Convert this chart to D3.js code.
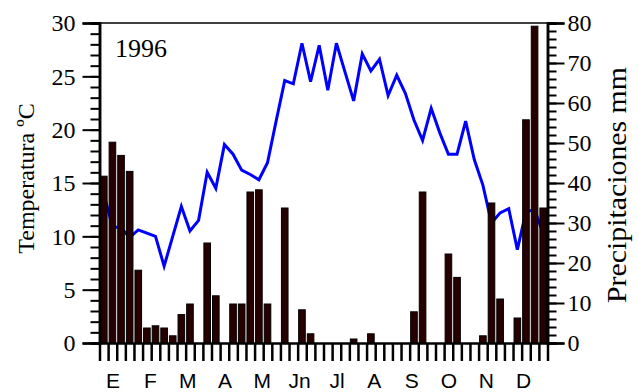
<!DOCTYPE html>
<html>
<head>
<meta charset="utf-8">
<script src="https://cdn.jsdelivr.net/npm/d3@7"></script>
<style>
  html, body { margin: 0; padding: 0; background: #fff; }
  svg { display: block; }
</style>
</head>
<body>
<svg id="chart" width="639" height="392"></svg>
<script>
// Weekly climate record for 1996: mean temperature (ºC) and precipitation (mm)
const year = "1996";
const months = ["E", "F", "M", "A", "M", "Jn", "Jl", "A", "S", "O", "N", "D"];
const temperature = [
  14.0, 10.9, 10.8, 9.9, 10.6, 10.3, 10.0, 7.2, 10.0, 12.8,
  10.5, 11.5, 16.0, 14.5, 18.6, 17.7, 16.2, 15.8, 15.3, 16.9,
  20.8, 24.6, 24.3, 28.1, 24.5, 27.9, 23.7, 28.1, 25.4, 22.7,
  27.1, 25.5, 26.6, 23.2, 25.1, 23.4, 20.9, 19.0, 22.0, 19.7,
  17.7, 17.7, 20.8, 17.2, 14.8, 11.25, 12.2, 12.6, 8.75, 12.3,
  12.5, 10.3
];
const precipitation = [
  41.7, 50.2, 46.9, 42.9, 18.2, 3.75, 4.3, 3.75, 1.8, 7.1,
  9.75, 0, 25.0, 11.8, 0, 9.75, 9.75, 37.75, 38.3, 9.75,
  0, 33.75, 0, 8.3, 2.3, 0, 0, 0, 0, 1.0,
  0, 2.3, 0, 0, 0, 0, 7.8, 37.75, 0, 0,
  22.25, 16.4, 0, 0, 1.8, 35.0, 11.0, 0, 6.25, 55.8,
  79.2, 33.75
];
const tempTicks = d3.range(0, 31, 5);
const precipTicks = d3.range(0, 81, 10);

const svg = d3.select("#chart");
const plotLeft = 99.5, plotRight = 547.5, plotTop = 23, plotBottom = 343;

const x = d3.scaleLinear().domain([0, temperature.length]).range([plotLeft, plotRight]);
const yT = d3.scaleLinear().domain([0, 30]).range([plotBottom, plotTop]);
const yP = d3.scaleLinear().domain([0, 80]).range([plotBottom, plotTop]);

const serif = "'Liberation Serif', 'Times New Roman', serif";
const sans = "'Liberation Sans', Arial, sans-serif";

// frame top edge
svg.append("line")
  .attr("x1", plotLeft).attr("x2", plotRight).attr("y1", plotTop).attr("y2", plotTop)
  .attr("stroke", "#000").attr("stroke-width", 1.5);

// temperature line (drawn under the bars)
svg.append("path")
  .datum(temperature)
  .attr("fill", "none")
  .attr("stroke", "#0000ff")
  .attr("stroke-width", 3)
  .attr("stroke-linejoin", "miter")
  .attr("d", d3.line().x((d, i) => x(i + 0.5)).y(d => yT(d)));

// precipitation bars
const slot = x(1) - x(0);
svg.append("g")
  .selectAll("rect")
  .data(precipitation.map((v, i) => ({ v, i })).filter(d => d.v > 0))
  .join("rect")
  .attr("x", d => x(d.i) + 1)
  .attr("width", slot - 2)
  .attr("y", d => yP(d.v))
  .attr("height", d => yP(0) - yP(d.v))
  .attr("fill", "#260000")
  .attr("stroke", "#000")
  .attr("stroke-width", 1);

function styleAxis(g, w) {
  g.select(".domain").attr("stroke", "#000").attr("stroke-width", w);
  g.selectAll(".tick line").attr("stroke", "#000").attr("stroke-width", 2);
}

// left axis: minor ticks every degree, major every 5
const gLm = svg.append("g").attr("transform", `translate(${plotLeft},0)`)
  .call(d3.axisLeft(yT).tickValues(d3.range(0, 31, 1)).tickSize(9).tickFormat(""));
styleAxis(gLm, 2.5);
const gL = svg.append("g").attr("transform", `translate(${plotLeft},0)`)
  .call(d3.axisLeft(yT).tickValues(tempTicks).tickSize(17).tickPadding(7));
styleAxis(gL, 2.5);
gL.selectAll("text").attr("font-family", serif).attr("font-size", 24).attr("fill", "#000");

// right axis: minor ticks every 2 mm, major every 10
const gRm = svg.append("g").attr("transform", `translate(${plotRight},0)`)
  .call(d3.axisRight(yP).tickValues(d3.range(0, 81, 2)).tickSize(9).tickFormat(""));
styleAxis(gRm, 2.5);
const gR = svg.append("g").attr("transform", `translate(${plotRight},0)`)
  .call(d3.axisRight(yP).tickValues(precipTicks).tickSize(17).tickPadding(3));
styleAxis(gR, 2.5);
gR.selectAll("text").attr("font-family", serif).attr("font-size", 24).attr("fill", "#000");

// bottom axis: one tick per week boundary
const gB = svg.append("g").attr("transform", `translate(0,${plotBottom})`)
  .call(d3.axisBottom(x).tickValues(d3.range(0, temperature.length + 1)).tickSize(18).tickFormat("").tickSizeOuter(0));
styleAxis(gB, 2.5);
gB.selectAll(".tick line").attr("stroke-width", 2.5);

// month labels
svg.append("g")
  .selectAll("text")
  .data(months)
  .join("text")
  .attr("x", (d, i) => x(i * temperature.length / 12 + 1.57))
  .attr("y", 388)
  .attr("text-anchor", "middle")
  .attr("font-family", sans)
  .attr("font-size", 21)
  .attr("fill", "#000")
  .text(d => d);

// year label
svg.append("text")
  .attr("x", 115).attr("y", 56.5)
  .attr("font-family", serif).attr("font-size", 26).attr("fill", "#000")
  .text(year);

// axis titles
svg.append("text")
  .attr("transform", "translate(33.5,178.5) rotate(-90)")
  .attr("text-anchor", "middle")
  .attr("font-family", serif).attr("font-size", 24).attr("fill", "#000")
  .text("Temperatura ºC");

svg.append("text")
  .attr("transform", "translate(626,185) rotate(-90)")
  .attr("text-anchor", "middle")
  .attr("font-family", serif).attr("font-size", 28).attr("fill", "#000")
  .attr("textLength", 236).attr("lengthAdjust", "spacingAndGlyphs")
  .text("Precipitaciones mm");
</script>
</body>
</html>
